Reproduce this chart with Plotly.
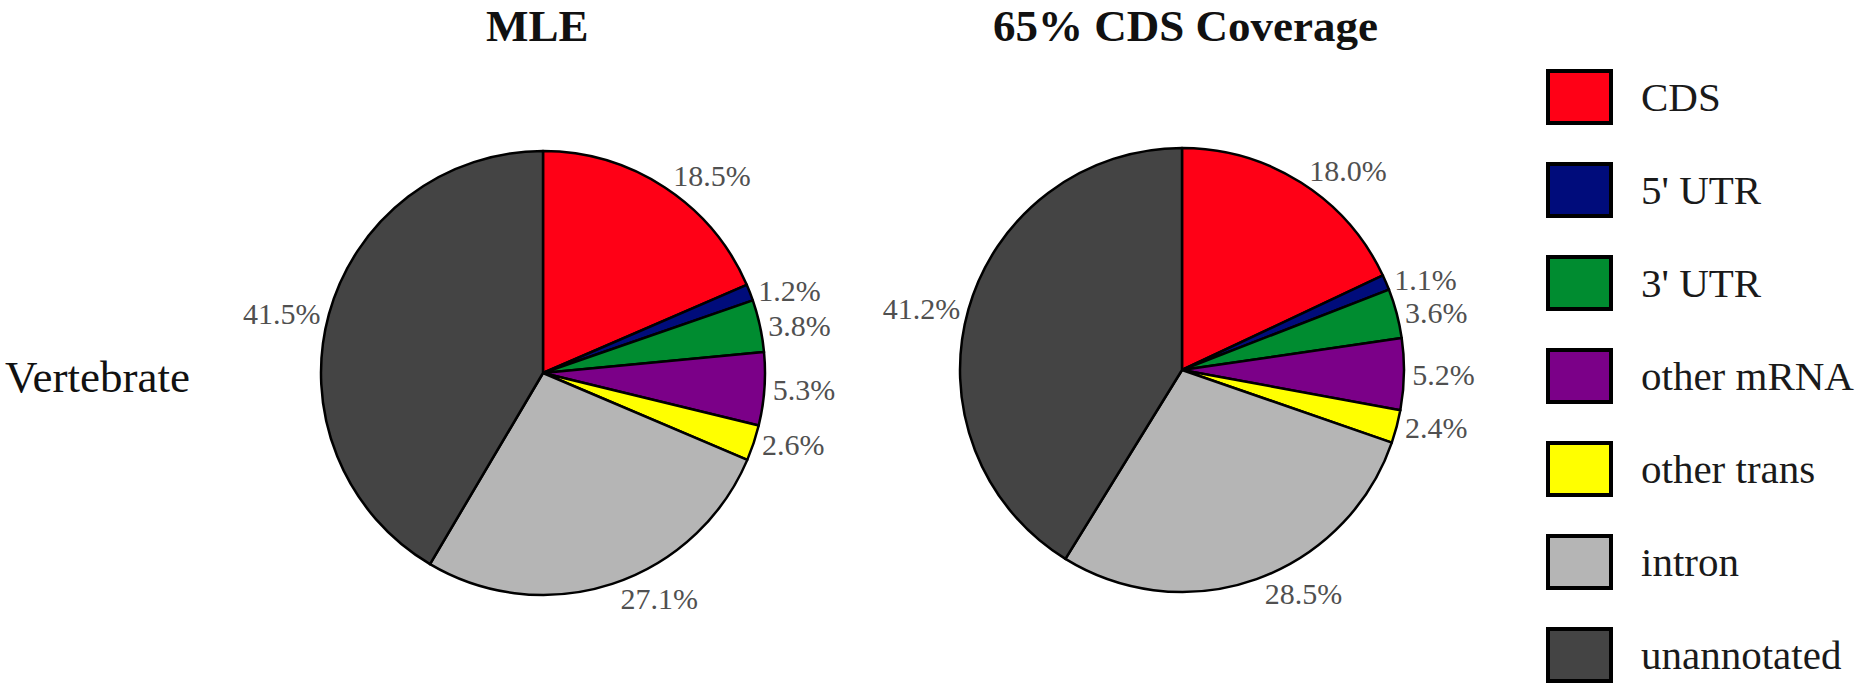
import plotly.graph_objects as go

W, H = 1864, 686

categories = ["CDS", "5' UTR", "3' UTR", "other mRNA", "other trans", "intron", "unannotated"]
colors = ["#FF0016", "#000C7B", "#008C30", "#7B0088", "#FFFF00", "#B5B5B5", "#444444"]
mle_values = [18.5, 1.2, 3.8, 5.3, 2.6, 27.1, 41.5]
cov65_values = [18.0, 1.1, 3.6, 5.2, 2.4, 28.5, 41.2]
titles = ["MLE", "65% CDS Coverage"]
row_label = "Vertebrate"

SERIF = "Liberation Serif, Times New Roman, serif"

def px_x(x):
    return x / W

def px_y(y):
    return 1 - y / H

fig = go.Figure()

pie_boxes = [(321, 765, 151, 595), (960, 1404, 148, 592)]
for vals, (x0, x1, y0, y1) in zip([mle_values, cov65_values], pie_boxes):
    fig.add_trace(go.Pie(
        labels=categories,
        values=vals,
        sort=False,
        direction="clockwise",
        rotation=0,
        marker=dict(colors=colors, line=dict(color="black", width=2.5)),
        textposition="outside",
        texttemplate="%{percent:.1%}",
        outsidetextfont=dict(family=SERIF, size=30, color="#505050"),
        domain=dict(x=[px_x(x0), px_x(x1)], y=[px_y(y1), px_y(y0)]),
        showlegend=False,
        hoverinfo="label+percent",
    ))

annotations = []
for t, cx in zip(titles, [537, 1185]):
    annotations.append(dict(
        text="<b>%s</b>" % t, x=px_x(cx), y=px_y(26), xref="paper", yref="paper",
        xanchor="center", yanchor="middle", showarrow=False,
        font=dict(family=SERIF, size=45, color="#111111")))
annotations.append(dict(
    text=row_label, x=px_x(3), y=px_y(377), xref="paper", yref="paper",
    xanchor="left", yanchor="middle", showarrow=False,
    font=dict(family=SERIF, size=45, color="#111111")))

shapes = []
box_top0, step, box_h = 69, 93.0, 56
for i, (cat, col) in enumerate(zip(categories, colors)):
    top = box_top0 + step * i
    shapes.append(dict(
        type="rect", xref="paper", yref="paper",
        x0=px_x(1548), x1=px_x(1611), y0=px_y(top + box_h - 2), y1=px_y(top + 2),
        fillcolor=col, line=dict(color="black", width=4)))
    annotations.append(dict(
        text=cat, x=px_x(1639), y=px_y(top + box_h / 2), xref="paper", yref="paper",
        xanchor="left", yanchor="middle", showarrow=False,
        font=dict(family=SERIF, size=41, color="#1a1a1a")))

fig.update_layout(
    width=W, height=H,
    margin=dict(l=0, r=0, t=0, b=0),
    paper_bgcolor="white", plot_bgcolor="white",
    annotations=annotations, shapes=shapes,
)

post = (
    "document.body.style.margin='0';"
    "document.body.style.overflow='hidden';"
    "var st=document.createElement('style');"
    "st.textContent='.pielayer path.textline{stroke-opacity:0 !important;}';"
    "document.head.appendChild(st);"
)

fig.write_html("out.html", config={"displayModeBar": False}, post_script=post)
